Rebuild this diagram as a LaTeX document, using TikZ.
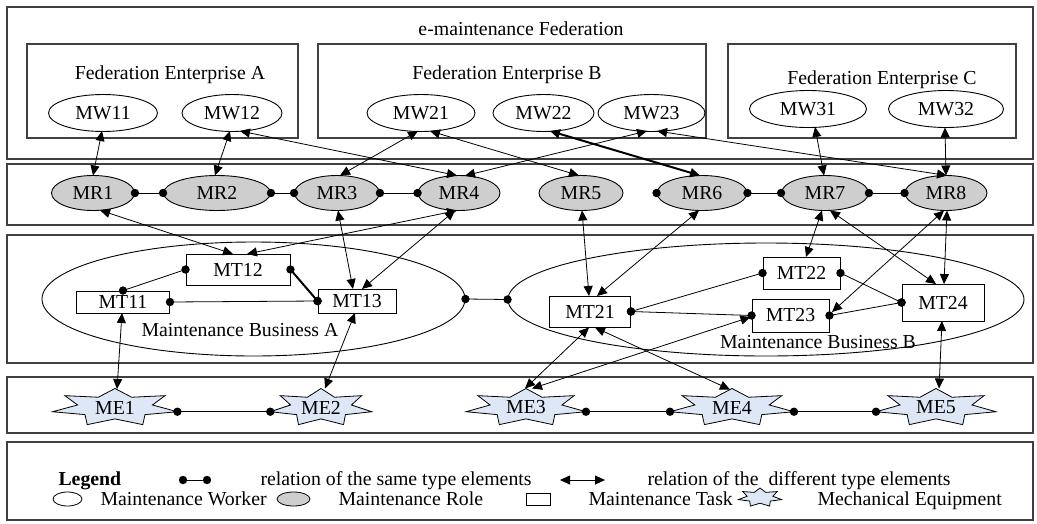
\documentclass[tikz,border=0pt]{standalone}
\usepackage{fontspec}
\setmainfont{Liberation Serif}
\usetikzlibrary{arrows.meta,shapes.geometric,calc}
\definecolor{mefill}{RGB}{221,231,245}
\definecolor{mrfill}{RGB}{206,206,206}
\def\sr{0.6}
\newcommand\starshape[4]{%
  \begin{scope}[shift={(#1,#2)}, x=#3pt, y=#4pt]
    \filldraw[starsty] (90:1) -- (115.71:\sr) -- (141.43:1) -- (167.14:\sr) -- (192.86:1) -- (218.57:\sr) -- (244.29:1) -- (270:\sr) -- (295.71:1) -- (321.43:\sr) -- (347.14:1) -- (12.86:\sr) -- (38.57:1) -- (64.29:\sr) -- cycle;
  \end{scope}}
\newcommand\samerel[3][]{\draw[same,#1] #2 -- #3; \fill #2 circle[radius=4.2pt] #3 circle[radius=4.2pt];}
\begin{document}
\begin{tikzpicture}[x=1pt,y=-1pt,
  font=\fontsize{19.8}{23}\selectfont,
  frame/.style={draw=black!75, line width=1.1pt},
  mw/.style={ellipse, draw, line width=0.9pt, inner sep=0pt, minimum height=37pt},
  mr/.style={ellipse, draw, line width=0.9pt, inner sep=0pt, fill=mrfill, minimum height=35pt},
  mt/.style={rectangle, draw, line width=0.9pt, inner sep=0pt},
  mb/.style={ellipse, draw, line width=0.9pt, inner sep=0pt},
  me/.style={inner sep=0pt},
  starsty/.style={draw, line width=0.8pt, fill=mefill},
  rel/.style={line width=0.8pt, {Triangle[length=10pt,width=9pt]}-{Triangle[length=10pt,width=9pt]}},
  same/.style={line width=0.8pt},
  heavy/.style={line width=2pt},
]
\useasboundingbox (0,0) rectangle (1037,523);
\fill[white] (0,0) rectangle (1037,523);

% frames
\draw[frame] (7,7) rectangle (1033,159);
\draw[frame] (7,164) rectangle (1033,225);
\draw[frame] (7,235) rectangle (1033,363);
\draw[frame] (7,377) rectangle (1033,433);
\draw[frame] (7,442) rectangle (1033,520);
\draw[frame] (27,44) rectangle (298,138);
\draw[frame] (318,44) rectangle (706,138);
\draw[frame] (728,44) rectangle (1016,138);

\node[anchor=base] (fedt) at (521,35) {e-maintenance Federation};
\node[anchor=base] (entA) at (170,79) {Federation Enterprise A};
\node[anchor=base] (entB) at (507,79) {Federation Enterprise B};
\node[anchor=base] (entC) at (882,84) {Federation Enterprise C};

% workers
\node[mw, minimum width=109pt] (MW11) at (103,113) {MW11};
\node[mw, minimum width=100pt] (MW12) at (232,113) {MW12};
\node[mw, minimum width=108pt] (MW21) at (421,113) {MW21};
\node[mw, minimum width=101pt] (MW22) at (543.5,113) {MW22};
\node[mw, minimum width=107pt] (MW23) at (651.5,113) {MW23};
\node[mw, minimum width=117pt] (MW31) at (808,109) {MW31};
\node[mw, minimum width=115pt] (MW32) at (946,109) {MW32};

% roles
\node[mr, minimum width=83pt] (MR1) at (93,193) {MR1};
\node[mr, minimum width=107pt] (MR2) at (217,193) {MR2};
\node[mr, minimum width=85pt] (MR3) at (337,193) {MR3};
\node[mr, minimum width=82pt] (MR4) at (459,193) {MR4};
\node[mr, minimum width=84pt] (MR5) at (581,193) {MR5};
\node[mr, minimum width=90pt] (MR6) at (702,193) {MR6};
\node[mr, minimum width=87pt] (MR7) at (825,193) {MR7};
\node[mr, minimum width=82pt] (MR8) at (946,193) {MR8};

% businesses
\node[mb, minimum width=423pt, minimum height=114pt] (MBA) at (253.5,299) {};
\node[mb, minimum width=516pt, minimum height=113pt] (MBB) at (766,299.5) {};
\node (MBAt) at (240,330) {Maintenance Business A};
\node (MBBt) at (818,342.5) {Maintenance Business B};

% tasks
\node[mt, minimum width=93pt, minimum height=22pt] (MT11) at (123,302) {MT11};
\node[mt, minimum width=104pt, minimum height=31pt] (MT12) at (238,269.5) {MT12};
\node[mt, minimum width=78pt, minimum height=24pt] (MT13) at (357,301) {MT13};
\node[mt, minimum width=81pt, minimum height=31pt] (MT21) at (590,311.5) {MT21};
\node[mt, minimum width=77pt, minimum height=32pt] (MT22) at (801.5,273) {MT22};
\node[mt, minimum width=77pt, minimum height=33pt] (MT23) at (790.5,315.5) {MT23};
\node[mt, minimum width=82pt, minimum height=37pt] (MT24) at (943,302.5) {MT24};

% equipment
\starshape{115}{407.5}{64}{19}
\node[me] (ME1) at (115,407.5) {ME1};
\starshape{321}{407.5}{52}{19}
\node[me] (ME2) at (321,407.5) {ME2};
\starshape{526}{407.5}{61.5}{19}
\node[me] (ME3) at (526,407.5) {ME3};
\starshape{732}{407.5}{63.6}{19}
\node[me] (ME4) at (732,407.5) {ME4};
\starshape{936}{407.5}{61.5}{19}
\node[me] (ME5) at (936,407.5) {ME5};

% same-type relations
\samerel{(MR1.east)}{(MR2.west)}
\samerel{(MR2.east)}{(MR3.west)}
\samerel{(MR3.east)}{(MR4.west)}
\samerel{(MR6.east)}{(MR7.west)}
\samerel{(MR7.east)}{(MR8.west)}
\fill (MR6.west) circle[radius=4.2pt];
\samerel{(MT12.west)}{(MT11.north)}
\samerel[heavy]{(MT12.east)}{(MT13.west)}
\samerel{(MT11.east)}{(MT13.west)}
\samerel{(MBA.east)}{(MBB.west)}
\samerel{(MT21.east)}{(MT22.west)}
\samerel{(MT21.east)}{(MT23.west)}
\samerel{(MT22.east)}{(MT24.west)}
\samerel{(MT24.west)}{(MT23.east)}
\samerel{($(ME1)+(62.4,4.2)$)}{($(ME2)+(-50.7,4.2)$)}
\samerel{($(ME3)+(60,4.2)$)}{($(ME4)+(-62,4.2)$)}
\samerel{($(ME4)+(62,4.2)$)}{($(ME5)+(-60,4.2)$)}

% different-type relations: workers - roles
\draw[rel] ($(MW11)+(-1,18)$) -- ($(MR1)+(0,-17.5)$);
\draw[rel] ($(MW12)+(-2,18)$) -- ($(MR2)+(-2,-17.5)$);
\draw[rel] ($(MW12)+(8,18)$) -- ($(MR4)+(-2,-17.5)$);
\draw[rel] ($(MW21)+(-3,18)$) -- ($(MR3)+(3,-17.5)$);
\draw[rel] ($(MW21)+(9,18)$) -- ($(MR5)+(-2,-17.5)$);
\draw[rel,heavy] ($(MW22)+(6.5,18)$) -- ($(MR6)+(-2,-17.5)$);
\draw[rel] ($(MW23)+(-4.5,18)$) -- ($(MR4)+(6,-17.3)$);
\draw[rel] ($(MW23)+(5.5,18)$) -- ($(MR8)+(1,-17.5)$);
\draw[rel] ($(MW31)+(7,18)$) -- ($(MR7)+(-1,-17.5)$);
\draw[rel] ($(MW32)+(-1,18.5)$) -- ($(MR8)+(0,-17.5)$);

% roles - tasks
\draw[rel] ($(MR1)+(7,17.2)$) -- ($(MT12)+(-5,-15.5)$);
\draw[rel] ($(MR4)+(-2,17.5)$) -- ($(MT12)+(9,-15.5)$);
\draw[rel] ($(MR3)+(1,17.5)$) -- ($(MT13)+(-4,-12)$);
\draw[rel] ($(MR4)+(-4,17.5)$) -- ($(MT13)+(5,-12)$);
\draw[rel] ($(MR5)+(1,17.5)$) -- ($(MT21)+(-1,-15.5)$);
\draw[rel] ($(MR6)+(-3,17.5)$) -- ($(MT21)+(7,-15.5)$);
\draw[rel] ($(MR7)+(-3,17.5)$) -- ($(MT22)+(4.5,-16)$);
\draw[rel] ($(MR7)+(5,17.5)$) -- ($(MT24)+(-7,-18.5)$);
\draw[rel] ($(MR8)+(-2,17.5)$) -- ($(MT23)+(41.5,-3.5)$);
\draw[rel] ($(MR8)+(1,17.5)$) -- ($(MT24)+(1,-18.5)$);

% tasks - equipment
\draw[rel] ($(MT11)+(-1,11)$) -- ($(ME1)+(2,-18.5)$);
\draw[rel] ($(MT13)+(-2,12)$) -- ($(ME2)+(4,-19)$);
\draw[rel] ($(MT21)+(-1,16)$) -- ($(ME3)+(-1,-19)$);
\draw[rel] ($(MT23)+(-40,1.5)$) -- ($(ME3)+(6,-19)$);
\draw[rel] ($(MT21)+(5,16)$) -- ($(ME4)+(-2,-18)$);
\draw[rel] ($(MT24)+(-1,18.5)$) -- ($(ME5)+(3,-19)$);

% legend
\node[anchor=base west, font=\fontsize{19.8}{23}\selectfont\bfseries] (lgd) at (55,485.5) {Legend};
\coordinate (ls1) at (183,480);
\coordinate (ls2) at (207,480);
\samerel{(ls1)}{(ls2)}
\node[anchor=base west] (lgs) at (257,485.5) {relation of the same type elements};
\coordinate (ld1) at (560,480);
\coordinate (ld2) at (605,480);
\draw[rel] (ld1) -- (ld2);
\node[anchor=base west] (lgd2) at (644,485.5) {relation of the~ different type elements};
\node[ellipse, draw, line width=0.8pt, inner sep=0pt, minimum width=29pt, minimum height=14pt] (lw) at (67.5,499) {};
\node[anchor=base west] (lwt) at (97,505.5) {Maintenance Worker};
\node[ellipse, draw, line width=0.8pt, inner sep=0pt, fill=mrfill, minimum width=33pt, minimum height=14pt] (lr) at (293.5,499) {};
\node[anchor=base west] (lrt) at (335,505.5) {Maintenance Role};
\node[rectangle, draw, line width=0.8pt, inner sep=0pt, minimum width=24pt, minimum height=12pt] (lt) at (538,499) {};
\node[anchor=base west] (ltt) at (585,505.5) {Maintenance Task};
\starshape{760}{497.5}{22}{9.5}
\node[anchor=base west] (let) at (814,505.5) {Mechanical Equipment};
\end{tikzpicture}
\end{document}
